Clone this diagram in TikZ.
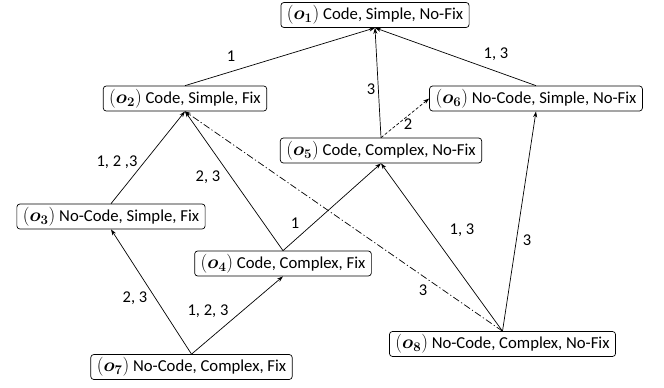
\documentclass[tikz,border=0pt]{standalone}
\usepackage{fontspec}
\usepackage{amsmath,bm}
\setmainfont{Carlito}
\usetikzlibrary{arrows.meta}
\newcommand{\ob}[1]{\scalebox{1.1}{$(\bm{o}_{\bm{#1}})$}}
\begin{document}
\begin{tikzpicture}[x=1pt,y=-1pt,
  state/.style={draw,rounded corners=3pt,inner xsep=6pt,inner ysep=0pt,minimum height=25pt,font=\fontsize{16.7}{18}\selectfont,line width=0.7pt},
  lbl/.style={inner sep=0pt,font=\fontsize{16.5}{18}\selectfont},
  conn/.style={-{Stealth[length=6pt,width=4pt]},line width=0.7pt},
  dashconn/.style={conn,dash pattern=on 3pt off 2pt},
  dotdash/.style={conn,dash pattern=on 7pt off 2.5pt on 1.2pt off 2.5pt}]
\useasboundingbox (0,0) rectangle (664,388);
\node[state] (o1) at (375,15) {\ob1 Code, Simple, No-Fix};
\node[state] (o2) at (185,98.5) {\ob2 Code, Simple, Fix};
\node[state] (o6) at (536,98.5) {\ob6 No-Code, Simple, No-Fix};
\node[state] (o5) at (381,150.5) {\ob5 Code, Complex, No-Fix};
\node[state] (o3) at (111,216.5) {\ob3 No-Code, Simple, Fix};
\node[state] (o4) at (283,263.5) {\ob4 Code, Complex, Fix};
\node[state] (o8) at (502.5,344) {\ob8 No-Code, Complex, No-Fix};
\node[state] (o7) at (191.5,367) {\ob7 No-Code, Complex, Fix};

\draw[conn] (o2.north) -- (o1.south);
\draw[conn] (o5.north) -- (o1.south);
\draw[conn] (o6.north) -- (o1.south);
\draw[dashconn] (o5.north) -- (o6.west);
\draw[conn] (o3.north) -- (o2.south);
\draw[conn] (o4.north) -- (o2.south);
\draw[conn] (o4.north) -- (o5.south);
\draw[dotdash] (o8.north) -- (o2.south);
\draw[conn] (o8.north) -- (o5.south);
\draw[conn] (o8.north) -- (o6.south);
\draw[conn] (o7.north) -- (o3.south);
\draw[conn] (o7.north) -- (o4.south);

\node[lbl] (l21) at (231,56) {1};
\node[lbl] (l51) at (371,89) {3};
\node[lbl] (l61) at (496,54) {1, 3};
\node[lbl] (l56) at (408,124) {2};
\node[lbl] (l32) at (117,162) {1, 2 ,3};
\node[lbl] (l42) at (208,177) {2, 3};
\node[lbl] (l45) at (295,223) {1};
\node[lbl] (l85) at (462,230) {1, 3};
\node[lbl] (l86) at (527,240) {3};
\node[lbl] (l82) at (423,290) {3};
\node[lbl] (l73) at (135,298) {2, 3};
\node[lbl] (l74) at (208,311) {1, 2, 3};
\end{tikzpicture}
\end{document}
